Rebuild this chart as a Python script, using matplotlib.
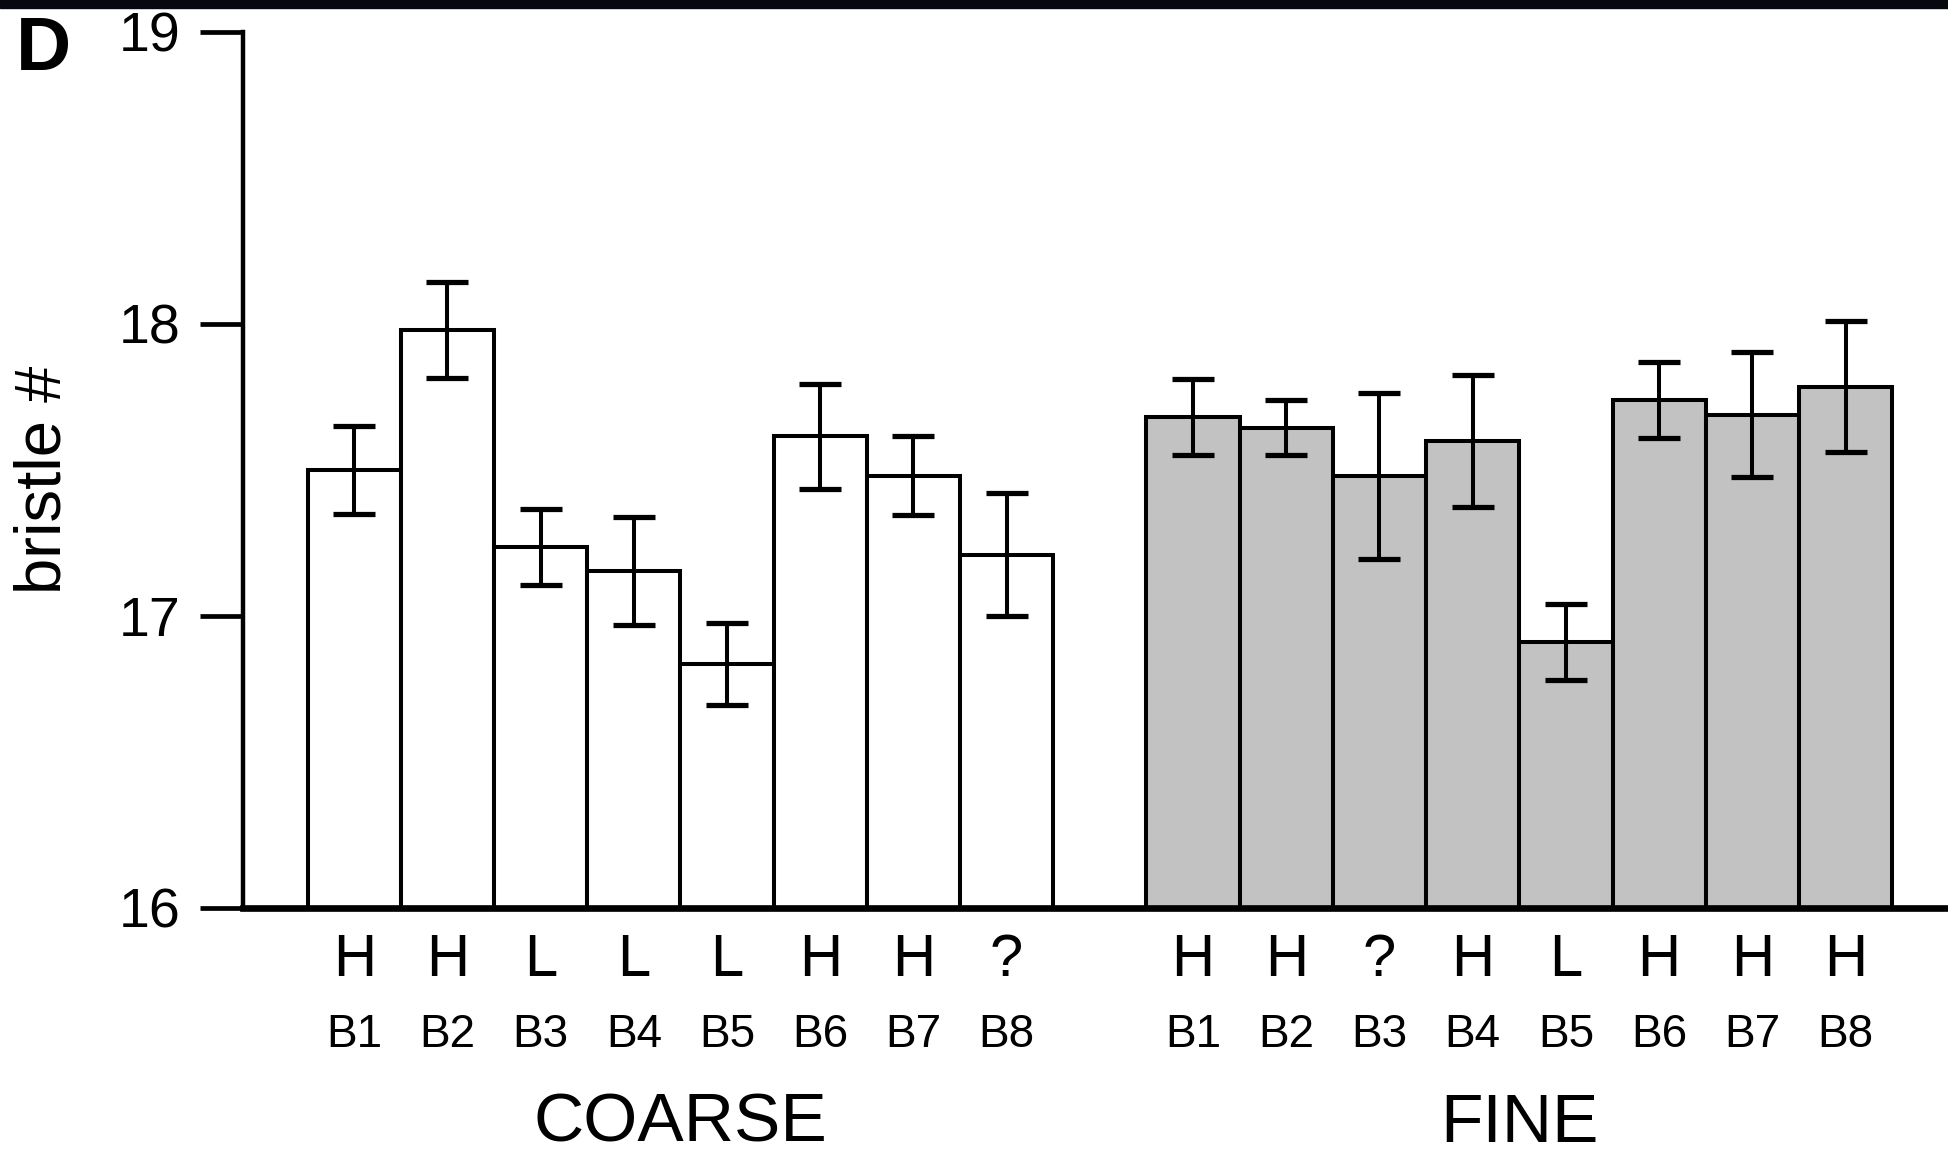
import matplotlib
matplotlib.use("Agg")
import matplotlib.pyplot as plt
from matplotlib.patches import Rectangle
import numpy as np

plt.rcParams['font.family'] = ['Liberation Sans', 'DejaVu Sans']

# ---- data ----
lines = ["B1", "B2", "B3", "B4", "B5", "B6", "B7", "B8"]
coarse_class = ["H", "H", "L", "L", "L", "H", "H", "?"]
fine_class = ["H", "H", "?", "H", "L", "H", "H", "H"]
coarse_mean = [17.50, 17.98, 17.235, 17.155, 16.835, 17.615, 17.48, 17.21]
coarse_err = [0.15, 0.165, 0.13, 0.185, 0.14, 0.18, 0.135, 0.21]
fine_mean = [17.68, 17.645, 17.48, 17.60, 16.91, 17.74, 17.69, 17.785]
fine_err = [0.13, 0.095, 0.285, 0.225, 0.13, 0.13, 0.215, 0.225]
groups = ["COARSE", "FINE"]
yticks = [16, 17, 18, 19]

W, H = 1949, 1153
fig = plt.figure(figsize=(W / 100, H / 100), dpi=100)
ax = fig.add_axes([243 / W, 1 - 908 / H, 1 - 243 / W, (908 - 32) / H])

n = len(lines)
x_coarse = np.arange(n)
x_fine = np.arange(n) + n + 1

lw = 2.9
ax.bar(x_coarse, coarse_mean, width=1.0, color="white", edgecolor="black",
       linewidth=lw, zorder=2)
ax.bar(x_fine, fine_mean, width=1.0, color="#c2c2c2", edgecolor="black",
       linewidth=lw, zorder=2)
ax.errorbar(x_coarse, coarse_mean, yerr=coarse_err, fmt="none", ecolor="black",
            elinewidth=lw, capsize=15, capthick=lw * 1.3, zorder=3)
ax.errorbar(x_fine, fine_mean, yerr=fine_err, fmt="none", ecolor="black",
            elinewidth=lw, capsize=15, capthick=lw * 1.3, zorder=3)

ax.set_ylim(16, 19)
ax.set_xlim(-1.193, 2 * n + 1 - 0.5 + 0.61)
ax.set_yticks(yticks)
ax.set_yticklabels([str(t) for t in yticks], fontsize=40)
ax.tick_params(axis="y", length=31, width=3.4, pad=14, color="black")
ax.set_xticks([])

for s in ["top", "right"]:
    ax.spines[s].set_visible(False)
ax.spines["left"].set_linewidth(3.2)
ax.spines["bottom"].set_linewidth(4.8)
ax.spines["bottom"].set_zorder(4)
ax.spines["left"].set_zorder(4)

trans = ax.get_xaxis_transform()
ax_h = 908 - 32
for xs, cls in ((x_coarse, coarse_class), (x_fine, fine_class)):
    for xi, c, b in zip(xs, cls, lines):
        ax.text(xi, -(960 - 908) / ax_h, c, transform=trans, ha="center",
                va="center", fontsize=43)
        ax.text(xi, -(1035 - 908) / ax_h, b, transform=trans, ha="center",
                va="center", fontsize=33)
ax.text(x_coarse.mean(), -(1124 - 908) / ax_h, groups[0], transform=trans,
        ha="center", va="center", fontsize=50)
ax.text(x_fine.mean(), -(1124 - 908) / ax_h, groups[1], transform=trans,
        ha="center", va="center", fontsize=50)

fig.text(44 / W, 1 - 480 / H, "bristle #", fontsize=47, rotation=90,
         ha="center", va="center")

fig.text(44 / W, 1 - 50 / H, "D", fontsize=55, fontweight="bold",
         ha="center", va="center")

fig.patches.append(Rectangle((0, 1 - 8 / H), 1, 8 / H, transform=fig.transFigure,
                             color="#07070f", zorder=10))

fig.savefig("out.png", dpi=100)
